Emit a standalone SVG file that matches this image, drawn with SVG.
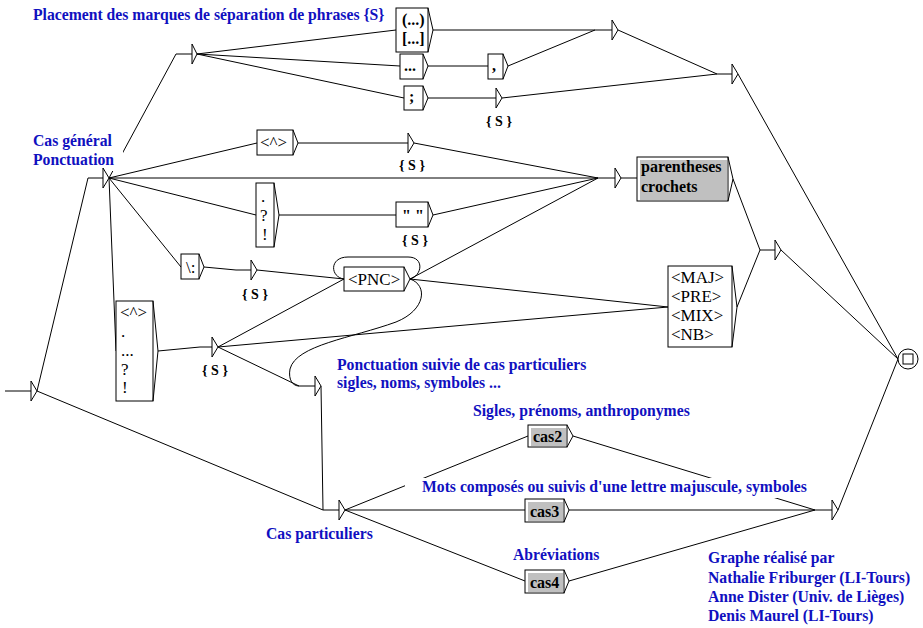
<svg xmlns="http://www.w3.org/2000/svg" width="923" height="628" viewBox="0 0 923 628">
<style>
.bg{fill:#fff}
.c path{fill:none;stroke:#000;stroke-width:1}
.box{fill:#fff;stroke:#000;stroke-width:1}
.gray{fill:#c0c0c0;stroke:none}
.arr{fill:none;stroke:#000;stroke-width:1}
.tri{fill:#fff;stroke:#000;stroke-width:1}
.t{font-family:"Liberation Serif","Times New Roman",serif;font-size:17px;fill:#000}
.tb{font-family:"Liberation Serif","Times New Roman",serif;font-size:16px;font-weight:bold;fill:#000}
.out{font-family:"Liberation Serif","Times New Roman",serif;font-size:14px;font-weight:bold;fill:#000;text-anchor:middle}
.lbl{font-family:"Liberation Serif","Times New Roman",serif;font-size:15.7px;font-weight:bold;fill:#1010c0}
</style>
<rect class="bg" x="0" y="0" width="923" height="628"/>

<g id="connectors" class="c">
<path d="M37,391 L88,178 H103"/>
<path d="M37,391 L323,510 H339"/>
<path d="M109,178 L176,54 H192"/>
<path d="M109,178 L257,143"/>
<path d="M109,178 H615"/>
<path d="M109,178 L256,215"/>
<path d="M109,178 L181,267"/>
<path d="M109,178 L116,351"/>
<path d="M197,54 L396,30"/>
<path d="M197,54 L400,66"/>
<path d="M197,54 L404,98"/>
<path d="M433,30 H612"/>
<path d="M428,66 H488"/>
<path d="M508,66 L595,30"/>
<path d="M428,98 H496"/>
<path d="M502,98 L717,74 H732"/>
<path d="M618,30 L717,74"/>
<path d="M738,74 L898,359"/>
<path d="M298,143 H408"/>
<path d="M414,143 L598,178"/>
<path d="M279,215 H396"/>
<path d="M433,215 L598,178"/>
<path d="M204,267 L236,270 H251"/>
<path d="M257,270 L344,279"/>
<path d="M158,351 L200,347 H212"/>
<path d="M218,347 L344,279"/>
<path d="M218,347 L668,307"/>
<path d="M218,347 L299,386 H315"/>
<path d="M410,279 C422,276 425,257 408,257 H348 C329,257 330,277 344,279"/>
<path d="M410,279 L598,178"/>
<path d="M410,279 L668,307"/>
<path d="M410,279 C428,285 426,310 396,322 C352,338 296,345 290,369 C288,380 293,386 299,386"/>
<path d="M621,178 H637"/>
<path d="M733,179 L760,250 H775"/>
<path d="M737,307 L760,250"/>
<path d="M781,250 L898,359"/>
<path d="M321,386 L323,510"/>
<path d="M345,510 L528,436"/>
<path d="M345,510 H525"/>
<path d="M345,510 L525,581"/>
<path d="M573,436 L815,510 H832"/>
<path d="M569,510 H815"/>
<path d="M569,581 L815,510"/>
<path d="M838,510 L898,359"/>
</g>

<g id="initial">
<path class="arr" d="M5,391 H31"/>
<path class="tri" d="M31,381 V401 L37,391 Z"/>
</g>

<g id="cas-general">
<rect class="bg" x="30" y="132" width="93" height="39"/>
<text class="lbl" x="33" y="146">Cas général</text>
<text class="lbl" x="33" y="165">Ponctuation</text>
<path class="tri" d="M103,168 V188 L109,178 Z"/>
</g>

<g id="placement">
<text class="lbl" x="33" y="20">Placement des marques de séparation de phrases {S}</text>
<path class="tri" d="M192,44 V64 L197,54 Z"/>
</g>

<g id="box-parens">
<rect class="box" x="396" y="8" width="32" height="44"/>
<path class="arr" d="M428,8 L433,30 L428,52"/>
<text class="tb" x="402" y="25">(...)</text>
<text class="tb" x="402" y="44">[...]</text>
</g>

<g id="box-ellipsis">
<rect class="box" x="400" y="54" width="23" height="25"/>
<path class="arr" d="M423,54 L428,66 L423,79"/>
<text class="tb" x="404" y="71">...</text>
</g>

<g id="box-semicolon">
<rect class="box" x="404" y="86" width="19" height="24"/>
<path class="arr" d="M423,86 L428,98 L423,110"/>
<text class="tb" x="409" y="102">;</text>
</g>

<g id="box-comma">
<rect class="box" x="488" y="54" width="15" height="25"/>
<path class="arr" d="M503,54 L508,66 L503,79"/>
<text class="tb" x="492" y="71">,</text>
</g>

<g id="eps-s1">
<path class="tri" d="M496,88 V108 L502,98 Z"/>
<text class="out" x="499" y="126">{ S }</text>
</g>

<g id="eps-top1">
<path class="tri" d="M612,20 V40 L618,30 Z"/>
</g>

<g id="eps-top2">
<path class="tri" d="M732,64 V84 L738,74 Z"/>
</g>

<g id="box-caret">
<rect class="box" x="257" y="130" width="36" height="25"/>
<path class="arr" d="M293,130 L298,143 L293,155"/>
<text class="t" x="260" y="148">&lt;^&gt;</text>
</g>

<g id="eps-s2">
<path class="tri" d="M408,133 V153 L414,143 Z"/>
<text class="out" x="412" y="170">{ S }</text>
</g>

<g id="box-dot-q-excl">
<rect class="box" x="256" y="183" width="18" height="64"/>
<path class="arr" d="M274,183 L279,215 L274,247"/>
<text class="t" x="261" y="202">.</text>
<text class="t" x="260" y="221">?</text>
<text class="t" x="262" y="240">!</text>
</g>

<g id="box-quotes">
<rect class="box" x="396" y="202" width="32" height="25"/>
<path class="arr" d="M428,202 L433,215 L428,227"/>
<text class="tb" x="402" y="221">" "</text>
<text class="out" x="415" y="245">{ S }</text>
</g>

<g id="box-colon">
<rect class="box" x="181" y="254" width="18" height="25"/>
<path class="arr" d="M199,254 L204,267 L199,279"/>
<text class="t" x="186" y="273">\:</text>
</g>

<g id="eps-s3">
<path class="tri" d="M251,260 V280 L257,270 Z"/>
<text class="out" x="255" y="299">{ S }</text>
</g>

<g id="box-pnc">
<rect class="box" x="344" y="267" width="60" height="24"/>
<path class="arr" d="M404,267 L410,279 L404,291"/>
<text class="t" x="348" y="285">&lt;PNC&gt;</text>
</g>

<g id="box-multi">
<rect class="box" x="116" y="301" width="37" height="100"/>
<path class="arr" d="M153,301 L158,351 L153,401"/>
<text class="t" x="120" y="318">&lt;^&gt;</text>
<text class="t" x="121" y="337">.</text>
<text class="t" x="121" y="356">...</text>
<text class="t" x="121" y="375">?</text>
<text class="t" x="122" y="393">!</text>
</g>

<g id="eps-s4">
<path class="tri" d="M212,337 V357 L218,347 Z"/>
<text class="out" x="215" y="375">{ S }</text>
</g>

<g id="eps-mid">
<path class="tri" d="M615,168 V188 L621,178 Z"/>
</g>

<g id="box-parentheses-crochets">
<rect class="box" x="637" y="157" width="91" height="44"/>
<rect class="gray" x="640" y="160" width="87" height="40"/>
<path class="arr" d="M728,157 L733,179 L728,201"/>
<text class="tb" x="641" y="172">parentheses</text>
<text class="tb" x="641" y="192">crochets</text>
</g>

<g id="box-maj">
<rect class="box" x="668" y="266" width="64" height="81"/>
<path class="arr" d="M732,266 L737,307 L732,347"/>
<text class="t" x="671" y="283">&lt;MAJ&gt;</text>
<text class="t" x="671" y="302">&lt;PRE&gt;</text>
<text class="t" x="671" y="321">&lt;MIX&gt;</text>
<text class="t" x="671" y="340">&lt;NB&gt;</text>
</g>

<g id="eps-right">
<path class="tri" d="M775,240 V260 L781,250 Z"/>
</g>

<g id="final">
<circle cx="908" cy="359" r="10" fill="#fff" stroke="#000"/>
<rect x="903" y="354" width="10" height="10" fill="none" stroke="#000"/>
</g>

<g id="ponct-suivie">
<text class="lbl" x="337" y="370">Ponctuation suivie de cas particuliers</text>
<text class="lbl" x="337" y="388">sigles, noms, symboles ...</text>
<path class="tri" d="M315,376 V396 L321,386 Z"/>
</g>

<g id="cas-particuliers">
<text class="lbl" x="266" y="539">Cas particuliers</text>
<path class="tri" d="M339,500 V520 L345,510 Z"/>
</g>

<g id="box-cas2">
<text class="lbl" x="473" y="416">Sigles, prénoms, anthroponymes</text>
<rect class="box" x="528" y="425" width="39" height="22"/>
<rect class="gray" x="531" y="428" width="35" height="18"/>
<path class="arr" d="M567,425 L573,436 L567,447"/>
<text class="tb" x="533" y="442">cas2</text>
</g>

<g id="label-mots">
<rect class="bg" x="405" y="478" width="407" height="20"/>
<text class="lbl" x="422" y="492">Mots composés ou suivis d'une lettre majuscule, symboles</text>
</g>

<g id="box-cas3">
<rect class="box" x="525" y="499" width="39" height="23"/>
<rect class="gray" x="528" y="502" width="35" height="19"/>
<path class="arr" d="M564,499 L569,510 L564,522"/>
<text class="tb" x="530" y="517">cas3</text>
</g>

<g id="box-cas4">
<text class="lbl" x="513" y="560">Abréviations</text>
<rect class="box" x="525" y="570" width="39" height="23"/>
<rect class="gray" x="528" y="573" width="35" height="19"/>
<path class="arr" d="M564,570 L569,581 L564,593"/>
<text class="tb" x="530" y="588">cas4</text>
</g>

<g id="eps-bottom">
<path class="tri" d="M832,500 V520 L838,510 Z"/>
</g>

<g id="credits">
<text class="lbl" x="708" y="563">Graphe réalisé par</text>
<text class="lbl" x="708" y="583">Nathalie Friburger (LI-Tours)</text>
<text class="lbl" x="708" y="602">Anne Dister (Univ. de Lièges)</text>
<text class="lbl" x="708" y="621">Denis Maurel (LI-Tours)</text>
</g>
</svg>
